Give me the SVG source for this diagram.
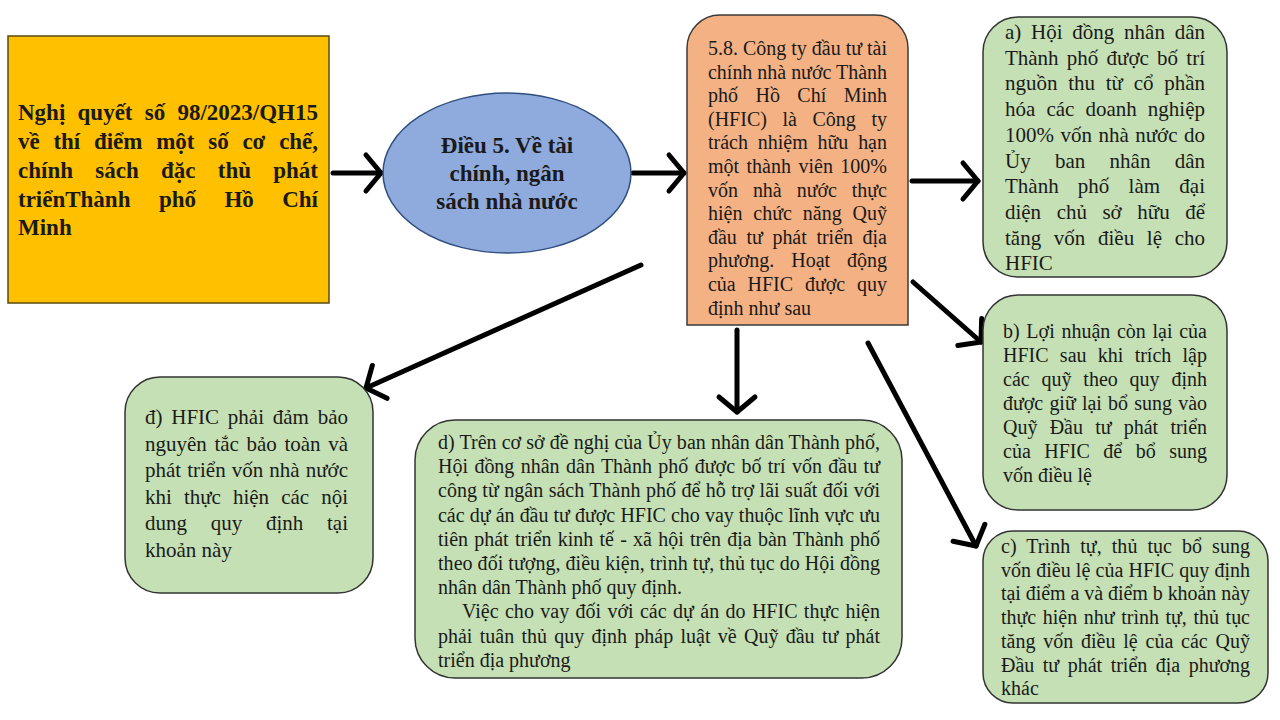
<svg xmlns="http://www.w3.org/2000/svg" width="1280" height="720" viewBox="0 0 1280 720">
<style>
  .t { font-family: "Liberation Serif", "Times New Roman", serif; fill: #1a1a1a; }
  .b { font-weight: bold; font-size: 23px; }
  .r20 { font-size: 20px; }
  .r21 { font-size: 21px; }
  .green { fill: #C5E0B4; stroke: #333333; stroke-width: 1.5; }
  .conn { fill: none; stroke: #000; stroke-width: 5; stroke-linecap: round; marker-end: url(#ah); }
</style>
<defs>
  <marker id="ah" viewBox="-24 -24 28 48" refX="0" refY="0" markerWidth="28" markerHeight="48" markerUnits="userSpaceOnUse" orient="auto">
    <path d="M-15,-18 L0,0 L-15,18" fill="none" stroke="#000" stroke-width="5" stroke-linecap="round" stroke-linejoin="round"/>
  </marker>
</defs>
<rect width="1280" height="720" fill="#ffffff"/>

<g id="connectors">
  <path class="conn" d="M333,173 L381,173"/>
  <path class="conn" d="M633,173 L684,173"/>
  <path class="conn" d="M912,181 L978,181"/>
  <path class="conn" d="M913,282 L981,342"/>
  <path class="conn" d="M737,330 L737,412"/>
  <path class="conn" d="M868,343 L976,546"/>
  <path class="conn" d="M641,265 L366,388"/>
</g>

<g id="node-nghiquyet">
  <rect x="8" y="36" width="321" height="267" fill="#FFC000" stroke="#5a4a10" stroke-width="1.5"/>
  <text class="t b" x="18" y="120" style="word-spacing:6.5px" textLength="300" lengthAdjust="spacing">Nghị quyết số 98/2023/QH15</text>
  <text class="t b" x="18" y="149" style="word-spacing:8.1px" textLength="300" lengthAdjust="spacing">về thí điểm một số cơ chế,</text>
  <text class="t b" x="18" y="178" style="word-spacing:16.5px" textLength="300" lengthAdjust="spacing">chính sách đặc thù phát</text>
  <text class="t b" x="18" y="207" style="word-spacing:22.7px" textLength="300" lengthAdjust="spacing">triểnThành phố Hồ Chí</text>
  <text class="t b" x="18" y="235">Minh</text>
</g>

<g id="node-dieu5">
  <ellipse cx="507" cy="173" rx="124" ry="80" fill="#8FAADC" stroke="#2F4F7F" stroke-width="1.5"/>
  <text class="t b" x="507" y="153" text-anchor="middle">Điều 5. Về tài</text>
  <text class="t b" x="507" y="181" text-anchor="middle">chính, ngân</text>
  <text class="t b" x="507" y="209" text-anchor="middle">sách nhà nước</text>
</g>

<g id="node-hfic">
  <path d="M687,325 L687,48 A33,33 0 0 1 720,15 L875,15 A33,33 0 0 1 908,48 L908,325 Z" fill="#F4B183" stroke="#3a3a3a" stroke-width="1.5"/>
  <g class="t r20">
    <text x="708" y="55" textLength="179" lengthAdjust="spacing">5.8. Công ty đầu tư tài</text>
    <text x="708" y="78.6" textLength="179" lengthAdjust="spacing">chính nhà nước Thành</text>
    <text x="708" y="102.2" style="word-spacing:12.4px" textLength="179" lengthAdjust="spacing">phố Hồ Chí Minh</text>
    <text x="708" y="125.8" style="word-spacing:10.6px" textLength="179" lengthAdjust="spacing">(HFIC) là Công ty</text>
    <text x="708" y="149.4" style="word-spacing:4.8px" textLength="179" lengthAdjust="spacing">trách nhiệm hữu hạn</text>
    <text x="708" y="173" style="word-spacing:2.4px" textLength="179" lengthAdjust="spacing">một thành viên 100%</text>
    <text x="708" y="196.6" style="word-spacing:10.1px" textLength="179" lengthAdjust="spacing">vốn nhà nước thực</text>
    <text x="708" y="220.2" style="word-spacing:6px" textLength="179" lengthAdjust="spacing">hiện chức năng Quỹ</text>
    <text x="708" y="243.8" style="word-spacing:4.6px" textLength="179" lengthAdjust="spacing">đầu tư phát triển địa</text>
    <text x="708" y="267.4" style="word-spacing:12px" textLength="179" lengthAdjust="spacing">phương. Hoạt động</text>
    <text x="708" y="291" style="word-spacing:6.9px" textLength="179" lengthAdjust="spacing">của HFIC được quy</text>
    <text x="708" y="314.6">định như sau</text>
  </g>
</g>

<g id="node-a">
  <rect class="green" x="983" y="17" width="244" height="260" rx="35" ry="35"/>
  <g class="t r21">
    <text x="1005" y="39" style="word-spacing:4.5px" textLength="200" lengthAdjust="spacing">a) Hội đồng nhân dân</text>
    <text x="1005" y="64.7" style="word-spacing:3.1px" textLength="200" lengthAdjust="spacing">Thành phố được bố trí</text>
    <text x="1005" y="90.4" style="word-spacing:5.5px" textLength="200" lengthAdjust="spacing">nguồn thu từ cổ phần</text>
    <text x="1005" y="116.1" style="word-spacing:5.8px" textLength="200" lengthAdjust="spacing">hóa các doanh nghiệp</text>
    <text x="1005" y="141.8" style="word-spacing:1.3px" textLength="200" lengthAdjust="spacing">100% vốn nhà nước do</text>
    <text x="1005" y="167.5" style="word-spacing:19px" textLength="200" lengthAdjust="spacing">Ủy ban nhân dân</text>
    <text x="1005" y="193.2" style="word-spacing:14px" textLength="200" lengthAdjust="spacing">Thành phố làm đại</text>
    <text x="1005" y="218.9" style="word-spacing:10.4px" textLength="200" lengthAdjust="spacing">diện chủ sở hữu để</text>
    <text x="1005" y="244.6" style="word-spacing:7.4px" textLength="200" lengthAdjust="spacing">tăng vốn điều lệ cho</text>
    <text x="1005" y="270.3">HFIC</text>
  </g>
</g>

<g id="node-b">
  <rect class="green" x="983" y="295" width="244" height="215" rx="35" ry="35"/>
  <g class="t r20">
    <text x="1003" y="338" style="word-spacing:1.7px" textLength="204" lengthAdjust="spacing">b) Lợi nhuận còn lại của</text>
    <text x="1003" y="362" style="word-spacing:6.3px" textLength="204" lengthAdjust="spacing">HFIC sau khi trích lập</text>
    <text x="1003" y="386" style="word-spacing:6.8px" textLength="204" lengthAdjust="spacing">các quỹ theo quy định</text>
    <text x="1003" y="410" style="word-spacing:1.3px" textLength="204" lengthAdjust="spacing">được giữ lại bổ sung vào</text>
    <text x="1003" y="434" style="word-spacing:7.25px" textLength="204" lengthAdjust="spacing">Quỹ Đầu tư phát triển</text>
    <text x="1003" y="458" style="word-spacing:8.5px" textLength="204" lengthAdjust="spacing">của HFIC để bổ sung</text>
    <text x="1003" y="482">vốn điều lệ</text>
  </g>
</g>

<g id="node-c">
  <rect class="green" x="983" y="531" width="285" height="172" rx="30" ry="30"/>
  <g class="t r20">
    <text x="1001" y="553" style="word-spacing:5px" textLength="249" lengthAdjust="spacing">c) Trình tự, thủ tục bổ sung</text>
    <text x="1001" y="576.7" style="word-spacing:0.2px" textLength="249" lengthAdjust="spacing">vốn điều lệ của HFIC quy định</text>
    <text x="1001" y="600.4" textLength="249" lengthAdjust="spacing">tại điểm a và điểm b khoản này</text>
    <text x="1001" y="624.1" style="word-spacing:1.7px" textLength="249" lengthAdjust="spacing">thực hiện như trình tự, thủ tục</text>
    <text x="1001" y="647.8" style="word-spacing:2.8px" textLength="249" lengthAdjust="spacing">tăng vốn điều lệ của các Quỹ</text>
    <text x="1001" y="671.5" style="word-spacing:3.6px" textLength="249" lengthAdjust="spacing">Đầu tư phát triển địa phương</text>
    <text x="1001" y="695.2">khác</text>
  </g>
</g>

<g id="node-dd">
  <rect class="green" x="125" y="377" width="248" height="216" rx="35" ry="35"/>
  <g class="t r21">
    <text x="145" y="424" style="word-spacing:3.5px" textLength="203" lengthAdjust="spacing">đ) HFIC phải đảm bảo</text>
    <text x="145" y="450.6" style="word-spacing:2.35px" textLength="203" lengthAdjust="spacing">nguyên tắc bảo toàn và</text>
    <text x="145" y="477.2" style="word-spacing:0.9px" textLength="203" lengthAdjust="spacing">phát triển vốn nhà nước</text>
    <text x="145" y="503.8" style="word-spacing:6.85px" textLength="203" lengthAdjust="spacing">khi thực hiện các nội</text>
    <text x="145" y="530.4" style="word-spacing:18.5px" textLength="203" lengthAdjust="spacing">dung quy định tại</text>
    <text x="145" y="557">khoản này</text>
  </g>
</g>

<g id="node-d">
  <rect class="green" x="415" y="420" width="487" height="258" rx="40" ry="40"/>
  <g class="t r20">
    <text x="438" y="449" textLength="442" lengthAdjust="spacing">d) Trên cơ sở đề nghị của Ủy ban nhân dân Thành phố,</text>
    <text x="438" y="473.2" style="word-spacing:1.4px" textLength="442" lengthAdjust="spacing">Hội đồng nhân dân Thành phố được bố trí vốn đầu tư</text>
    <text x="438" y="497.4" style="word-spacing:0.5px" textLength="442" lengthAdjust="spacing">công từ ngân sách Thành phố để hỗ trợ lãi suất đối với</text>
    <text x="438" y="521.6" style="word-spacing:0.2px" textLength="442" lengthAdjust="spacing">các dự án đầu tư được HFIC cho vay thuộc lĩnh vực ưu</text>
    <text x="438" y="545.8" style="word-spacing:1.2px" textLength="442" lengthAdjust="spacing">tiên phát triển kinh tế - xã hội trên địa bàn Thành phố</text>
    <text x="438" y="570" textLength="442" lengthAdjust="spacing">theo đối tượng, điều kiện, trình tự, thủ tục do Hội đồng</text>
    <text x="438" y="594.2">nhân dân Thành phố quy định.</text>
    <text x="462" y="618.4" style="word-spacing:1.35px" textLength="418" lengthAdjust="spacing">Việc cho vay đối với các dự án do HFIC thực hiện</text>
    <text x="438" y="642.6" style="word-spacing:2.3px" textLength="442" lengthAdjust="spacing">phải tuân thủ quy định pháp luật về Quỹ đầu tư phát</text>
    <text x="438" y="666.8">triển địa phương</text>
  </g>
</g>
</svg>
